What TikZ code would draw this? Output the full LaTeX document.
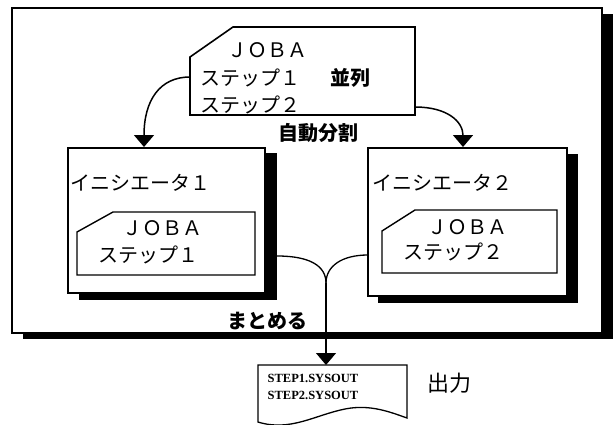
\documentclass[tikz,border=0pt]{standalone}
\usepackage{fontspec}
\setmainfont{Liberation Serif}
\newfontfamily\jp{Noto Sans CJK JP}
\usetikzlibrary{arrows.meta}
\begin{document}
\begin{tikzpicture}[x=1pt,y=-1pt,
  line width=1.3pt, line join=miter,
  frame/.style={draw=black, fill=white, line width=1.4pt},
  shade/.style={fill=black},
  link/.style={draw=black, line width=1.5pt},
  tipped/.style={-{Triangle[width=20pt,length=12pt]}},
  jt/.style={font=\jp\fontsize{20}{20}\selectfont, inner sep=0pt, anchor=west},
  jb/.style={font=\jp\bfseries\fontsize{20}{20}\selectfont, inner sep=0pt, anchor=west},
  st/.style={font=\bfseries\fontsize{12.5}{13}\selectfont, inner sep=0pt, anchor=west}]
\useasboundingbox (0,0) rectangle (615,425);

% outer frame with shadow
\fill[shade] (23,14) rectangle (613,339);
\draw[frame] (12,8) rectangle (602,333);

% initiator boxes with shadows
\fill[shade] (79,153) rectangle (277,300);
\draw[frame] (68,148) rectangle (265,293);
\fill[shade] (378,154) rectangle (578,303);
\draw[frame] (368,148) rectangle (567,296);

% top JOBA card
\draw[frame, line width=1.6pt] (190,57) -- (233,27) -- (415,27) -- (415,115) -- (190,115) -- cycle;
% inner cards
\draw[frame] (77,232) -- (113,212) -- (255,212) -- (255,275) -- (77,275) -- cycle;
\draw[frame] (382,231) -- (415,210) -- (557,210) -- (557,273) -- (382,273) -- cycle;

% connector end points
\coordinate (topL) at (190,77);
\coordinate (topR) at (415,107);
\coordinate (in1) at (144,147);
\coordinate (in2) at (463,147);
\coordinate (out1) at (277,256);
\coordinate (out2) at (368,255);
\coordinate (cusp) at (326,283);
\coordinate (doc) at (326,365);

% arrows from the top card
\draw[link, tipped] (topL) .. controls (160,77) and (144,100) .. (in1);
\draw[link, tipped] (topR) .. controls (448,107) and (463,122) .. (in2);

% merging connectors
\draw[link, line width=1.3pt] (out1) .. controls (310,256) and (326,266) .. (cusp);
\draw[link, line width=1.3pt] (out2) .. controls (342,255) and (326,266) .. (cusp);
\draw[link, line width=1.3pt, tipped] (cusp) -- (doc);

% output document
\draw[frame, line width=1.3pt] (258,365) -- (407,365) -- (407,418)
  .. controls (390,412) and (370,404) .. (345,409)
  .. controls (315,415) and (290,432) .. (258,422) -- cycle;

% texts
\node[jt] (ja) at (227,50) {ＪＯＢＡ};
\node[jt] (s1) at (200,78) {ステップ１};
\node[jb] (par) at (330,78) {並列};
\node[jt] (s2) at (200,105) {ステップ２};
\node[jb] (auto) at (278,133) {自動分割};
\node[jt] (i1) at (70,183) {イニシエータ１};
\node[jt] (i2) at (372,183) {イニシエータ２};
\node[jt] (ja1) at (122,228) {ＪＯＢＡ};
\node[jt] (c1) at (98,255) {ステップ１};
\node[jt] (ja2) at (427,227) {ＪＯＢＡ};
\node[jt] (c2) at (403,252) {ステップ２};
\node[jb] (mt) at (227,321) {まとめる};
\node[st] (o1) at (267,378) {STEP1.SYSOUT};
\node[st] (o2) at (267,395) {STEP2.SYSOUT};
\node[font=\jp\fontsize{22}{22}\selectfont, inner sep=0pt, anchor=west] (out) at (427,383) {出力};
\end{tikzpicture}
\end{document}
